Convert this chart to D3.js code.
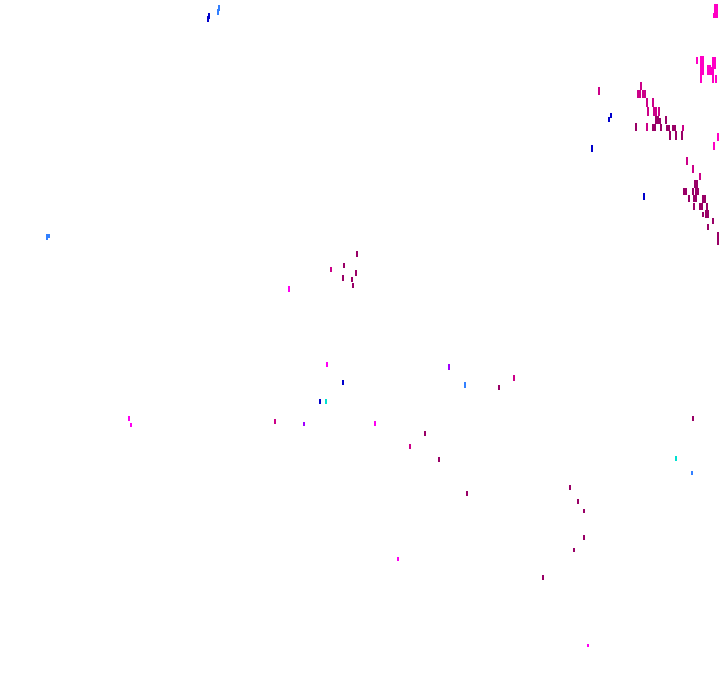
<!DOCTYPE html>
<html>
<head>
<meta charset="utf-8">
<script src="https://cdn.jsdelivr.net/npm/d3@7"></script>
<style>
  html, body { margin: 0; padding: 0; background: #fff; }
</style>
</head>
<body>
<div id="chart"></div>
<script>
// each mark is [x, y, length]
var hotMarks = [[714,4,14],[716,4,14],[713,13,5],[696,57,7],[700,56,27],[702,56,19],[707,65,10],[709,65,10],[711,67,8],[712,57,26],[714,57,12],[715,75,8],[717,133,8],[713,142,8]];
var magentaMarks = [[288,286,6],[326,362,5],[374,421,5],[128,416,5],[130,423,4],[397,557,4],[587,644,3]];
var roseMarks = [[598,87,8],[640,82,8],[637,90,8],[639,90,8],[642,90,8],[644,90,8],[646,98,9],[652,98,9],[647,107,9],[653,107,9],[655,107,9],[658,107,9],[646,123,8],[682,125,6],[686,157,8],[692,165,8],[699,173,7],[330,267,5],[274,419,5],[513,375,6],[409,444,5]];
var deepMarks = [[655,116,8],[657,116,8],[659,118,6],[665,116,8],[635,123,8],[652,124,7],[654,124,7],[660,124,7],[666,125,6],[668,125,6],[672,125,6],[674,125,6],[669,131,9],[675,131,9],[681,131,9],
  [694,180,8],[696,180,8],[683,188,7],[685,188,7],[692,188,7],[695,188,7],[697,188,7],[688,195,7],[693,195,7],[695,195,7],[702,195,8],[704,195,8],[693,203,7],[699,203,7],[701,203,7],[706,203,7],[705,210,8],[707,210,8],[702,212,5],[712,218,6],[707,224,6],[717,232,13],
  [356,251,6],[343,263,5],[342,275,6],[355,270,6],[351,277,5],[352,283,5],
  [498,385,5],[424,431,5],[438,457,5],[466,491,5],[692,416,5],[569,485,5],[577,499,5],[583,509,4],[583,535,5],[573,548,4],[542,575,5]];
var blueMarks = [[208,13,6],[207,16,6],[610,113,5],[608,117,5],[591,145,7],[643,193,7],[342,380,5],[319,399,5]];
var lightBlueMarks = [[218,5,6],[217,9,6],[46,234,6],[48,234,4],[464,382,6],[691,471,4]];
var cyanMarks = [[325,399,5],[675,456,5]];
var purpleMarks = [[303,422,4],[448,364,6]];

var seriesNames = ["hot", "magenta", "rose", "deep", "blue", "lightBlue", "cyan", "purple"];
var seriesColors = ["#ff00c4", "#ff00f2", "#cc0088", "#990066", "#0000cc", "#3380ff", "#00e0d0", "#a000ff"];

var width = 720,
    height = 692;

var svg = d3.select("#chart").append("svg")
    .attr("width", width)
    .attr("height", height);

var x = d3.scaleLinear()
    .domain([0, 720])
    .range([0, width]);

var y = d3.scaleLinear()
    .domain([0, 692])
    .range([0, height]);

var color = d3.scaleOrdinal()
    .domain(seriesNames)
    .range(seriesColors);

var series = [hotMarks, magentaMarks, roseMarks, deepMarks, blueMarks, lightBlueMarks, cyanMarks, purpleMarks]
    .map(function (marks, i) {
        return { name: seriesNames[i], marks: marks };
    });

var groups = svg.selectAll(".series")
    .data(series)
    .enter()
    .append("g")
    .attr("class", "series")
    .attr("fill", function (d) { return color(d.name); });

//short vertical ticks
groups.selectAll("rect")
    .data(function (d) { return d.marks; })
    .enter()
    .append("rect")
    .attr("x", function (d) { return x(d[0]); })
    .attr("y", function (d) { return y(d[1]); })
    .attr("width", 2)
    .attr("height", function (d) { return y(d[1] + d[2]) - y(d[1]); });
</script>
</body>
</html>
